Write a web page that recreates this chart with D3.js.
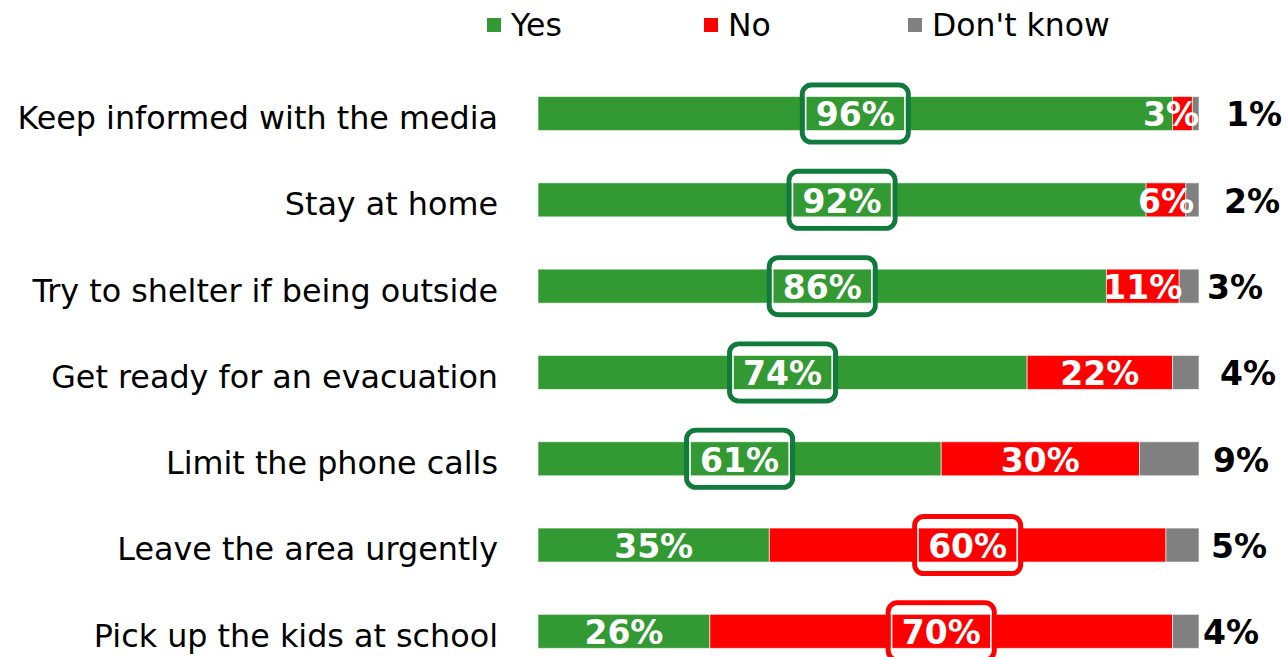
<!DOCTYPE html>
<html>
<head>
<meta charset="utf-8">
<script src="https://cdn.jsdelivr.net/npm/d3@7"></script>
<style>
  html, body { margin: 0; padding: 0; background: #fff; }
  svg { display: block; }
  text { font-family: "DejaVu Sans", Verdana, sans-serif; }
</style>
</head>
<body>
<svg id="chart" width="1288" height="657"></svg>
<script>
// ---- data ----
const categories = [
  "Keep informed with the media",
  "Stay at home",
  "Try to shelter if being outside",
  "Get ready for an evacuation",
  "Limit the phone calls",
  "Leave the area urgently",
  "Pick up the kids at school"
];
const seriesNames = ["Yes", "No", "Don't know"];
const yesValues = [96, 92, 86, 74, 61, 35, 26];
const noValues = [3, 6, 11, 22, 30, 60, 70];
const dontKnowValues = [1, 2, 3, 4, 9, 5, 4];
// which series is highlighted per row (0 = Yes, 1 = No)
const highlighted = [0, 0, 0, 0, 0, 1, 1];

// ---- layout / style ----
const colors = ["#339933", "#ff0000", "#808080"];
const boxColors = ["#117a3d", "#ff0000"];
const dkNudge = [27, 25, 8, 21, 14, 12, 4];

const svg = d3.select("#chart");
const x = d3.scaleLinear().domain([0, 100]).range([538, 1199]);
const y = d3.scaleBand().domain(categories).range([70.4, 674.5])
  .paddingInner(0.606).paddingOuter(0.303);

const rows = categories.map((c, i) => {
  const vals = [yesValues[i], noValues[i], dontKnowValues[i]];
  let acc = 0;
  const segs = vals.map((v, k) => {
    const s = { cat: c, row: i, k, v, x0: acc, x1: acc + v };
    acc += v;
    return s;
  });
  return { cat: c, i, segs, total: acc };
});

// category labels
svg.append("g").selectAll("text").data(categories).join("text")
  .attr("x", 498)
  .attr("y", d => y(d) + y.bandwidth() / 2 + 4)
  .attr("dy", "0.36em")
  .attr("text-anchor", "end")
  .attr("font-size", 31.8)
  .attr("fill", "#000")
  .text(d => d);

// bars
const gBars = svg.append("g");
rows.forEach(r => {
  gBars.selectAll(null).data(r.segs).join("rect")
    .attr("x", d => x(d.x0))
    .attr("y", y(r.cat))
    .attr("width", d => x(d.x1) - x(d.x0))
    .attr("height", y.bandwidth())
    .attr("fill", d => colors[d.k])
    .attr("stroke", "#ffffff")
    .attr("stroke-opacity", 0.6)
    .attr("stroke-width", 1);
});

// in-bar labels (Yes / No)
const gLab = svg.append("g");
rows.forEach(r => {
  r.segs.slice(0, 2).forEach(s => {
    const t = gLab.append("text")
      .attr("y", y(r.cat) + y.bandwidth() / 2 + 1)
      .attr("dy", "0.36em")
      .attr("text-anchor", "middle")
      .attr("font-size", 33)
      .attr("font-weight", "bold")
      .attr("fill", "#fff")
      .text(s.v + "%");
    let cx = (x(s.x0) + x(s.x1)) / 2;
    const w = t.node().getComputedTextLength();
    cx = Math.min(cx, x(r.total) - w / 2);
    t.attr("x", cx);
  });
  // don't know label outside
  const dk = r.segs[2];
  gLab.append("text")
    .attr("x", x(r.total) + dkNudge[r.i])
    .attr("y", y(r.cat) + y.bandwidth() / 2 + 1)
    .attr("dy", "0.36em")
    .attr("text-anchor", "start")
    .attr("font-size", 33)
    .attr("font-weight", "bold")
    .attr("fill", "#000")
    .text(dk.v + "%");
});

// highlight boxes
const gBox = svg.append("g");
rows.forEach(r => {
  const s = r.segs[highlighted[r.i]];
  const cx = (x(s.x0) + x(s.x1)) / 2;
  const cy = y(r.cat) + y.bandwidth() / 2;
  const bw = 106, bh = 57;
  gBox.append("rect")
    .attr("x", cx - bw / 2).attr("y", cy - bh / 2)
    .attr("width", bw).attr("height", bh)
    .attr("rx", 9).attr("ry", 9)
    .attr("fill", "none")
    .attr("stroke", boxColors[highlighted[r.i]])
    .attr("stroke-width", 5);
  gBox.append("rect")
    .attr("x", cx - bw / 2 + 3.4).attr("y", cy - bh / 2 + 3.4)
    .attr("width", bw - 6.8).attr("height", bh - 6.8)
    .attr("rx", 6).attr("ry", 6)
    .attr("fill", "none")
    .attr("stroke", "#ffffff")
    .attr("stroke-width", 1.6);
});

// legend
const legendX = [487, 704, 908];
const gLeg = svg.append("g");
seriesNames.forEach((n, k) => {
  gLeg.append("rect")
    .attr("x", legendX[k]).attr("y", 18)
    .attr("width", 14).attr("height", 14)
    .attr("fill", colors[k]);
  gLeg.append("text")
    .attr("x", legendX[k] + 24).attr("y", 25)
    .attr("dy", "0.36em")
    .attr("font-size", 31.5)
    .attr("fill", "#000")
    .text(n);
});
</script>
</body>
</html>
